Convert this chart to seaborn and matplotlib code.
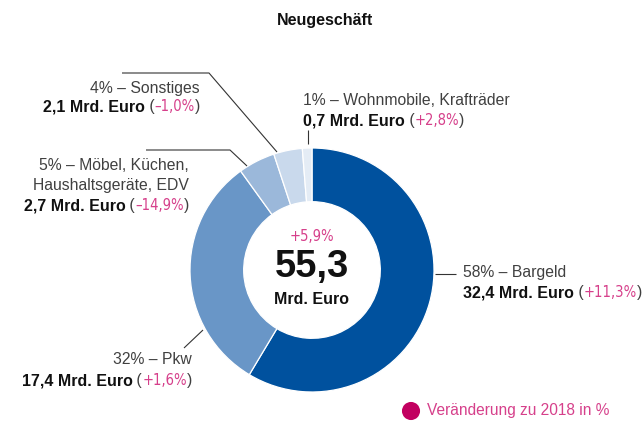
import matplotlib
matplotlib.use("Agg")
import matplotlib.pyplot as plt
import seaborn as sns
import pandas as pd

# Daten: Neugeschäft nach Segment
segmente = ["Bargeld", "Pkw", "Möbel, Küchen,\nHaushaltsgeräte, EDV", "Sonstiges", "Wohnmobile, Krafträder"]
anteile = [58, 32, 5, 4, 1]
volumen = [32.4, 17.4, 2.7, 2.1, 0.7]
veraenderung = ["+11,3%", "+1,6%", "–14,9%", "–1,0%", "+2,8%"]
gesamt = "55,3"
gesamt_veraenderung = "+5,9%"
farben = ["#00519e", "#6996c7", "#9bb8da", "#c9d9ec", "#e4ecf5"]

sns.set_theme(style="white")
plt.rcParams["font.family"] = ["Liberation Sans", "DejaVu Sans"]

W, H = 643, 425
GRAU = "#404040"
PINK = "#d6408b"
PUNKT = "#c20060"

fig = plt.figure(figsize=(W / 100, H / 100), dpi=100)
ax = fig.add_axes([0, 0, 1, 1])

# Donut (y-Achse nach unten -> startangle -90 & counterclock=True = im Uhrzeigersinn ab 12 Uhr)
cx, cy, r = 312, 270, 122
ax.pie(volumen, colors=farben, startangle=-90, counterclock=True,
       center=(cx, cy), radius=r,
       wedgeprops=dict(width=r * 0.44, edgecolor="white", linewidth=0.9))
ax.set_xlim(0, W)
ax.set_ylim(H, 0)
ax.set_aspect("auto")
ax.axis("off")

stil_reg = dict(color=GRAU, fontsize=11.3, family=["Liberation Sans", "DejaVu Sans"])
stil_bold = dict(color="#111111", fontsize=11.5, fontweight="bold", family=["Liberation Sans", "DejaVu Sans"])
stil_pink = dict(color=PINK, fontsize=10.6, family=["DejaVu Sans"], fontstretch="condensed")


def rich_line(x, y, parts, ha="left"):
    # alle Teile auf gemeinsamer Grundlinie (y = Zeilenmitte + 5 px)
    yb = y + 5
    if ha == "left":
        t = ax.text(x, yb, parts[0][0], ha="left", va="baseline", **parts[0][1])
        for s, kw in parts[1:]:
            t = ax.annotate(s, xy=(1, yb), xycoords=(t, "data"), ha="left", va="baseline", **kw)
    else:
        t = ax.text(x, yb, parts[-1][0], ha="right", va="baseline", **parts[-1][1])
        for s, kw in reversed(parts[:-1]):
            t = ax.annotate(s, xy=(0, yb), xycoords=(t, "data"), ha="right", va="baseline", **kw)


def mrd(v):
    return f"{v:.1f}".replace(".", ",") + " Mrd. Euro"


# Beschriftungs-Layout: (x, y erste Zeile, Zeilenabstand, Ausrichtung)
layout = [
    (463, 272, 20, "left"),
    (192, 360, 20, "right"),
    (189, 166, 19.5, "right"),
    (200, 88, 18, "right"),
    (303, 100, 20, "left"),
]
for seg, ant, vol, ver, (x, y, dy, ha) in zip(segmente, anteile, volumen, veraenderung, layout):
    zeilen = seg.split("\n")
    zeilen[0] = f"{ant}% – {zeilen[0]}"
    for i, z in enumerate(zeilen):
        ax.text(x, y + i * dy, z, ha=ha, va="center", **stil_reg)
    rich_line(x, y + len(zeilen) * dy,
              [(mrd(vol), stil_bold), (" (", stil_reg), (ver, stil_pink), (")", stil_reg)], ha=ha)

# Verbindungslinien
linien = [
    ([435, 456], [274, 274]),
    ([184, 203], [348, 330]),
    ([146, 230, 247], [150, 150, 166]),
    ([122, 209, 277], [73, 73, 152]),
    ([308, 308], [130, 144]),
]
for xs, ys in linien:
    ax.plot(xs, ys, color="#333333", lw=0.8, solid_capstyle="butt")

# Mitte
ax.text(cx, 236, gesamt_veraenderung, ha="center", va="center", **stil_pink)
ax.text(cx, 267, gesamt, ha="center", va="center", fontsize=27.5, fontweight="bold", color="#111111")
ax.text(cx, 299, "Mrd. Euro", ha="center", va="center", fontsize=11.5, fontweight="bold", color="#111111")

# Titel
ax.text(325, 20, "Neugeschäft", ha="center", va="center", fontsize=11.5, fontweight="bold", color="#111111")

# Legende
sns.scatterplot(data=pd.DataFrame({"x": [411], "y": [411]}), x="x", y="y", ax=ax,
                s=170, color=PUNKT, edgecolor="none", legend=False)
ax.text(427, 411, "Veränderung zu 2018 in %", ha="left", va="center", color=PINK, fontsize=11.2)
ax.set_xlim(0, W)
ax.set_ylim(H, 0)
ax.axis("off")

fig.savefig("out.png", dpi=100)
